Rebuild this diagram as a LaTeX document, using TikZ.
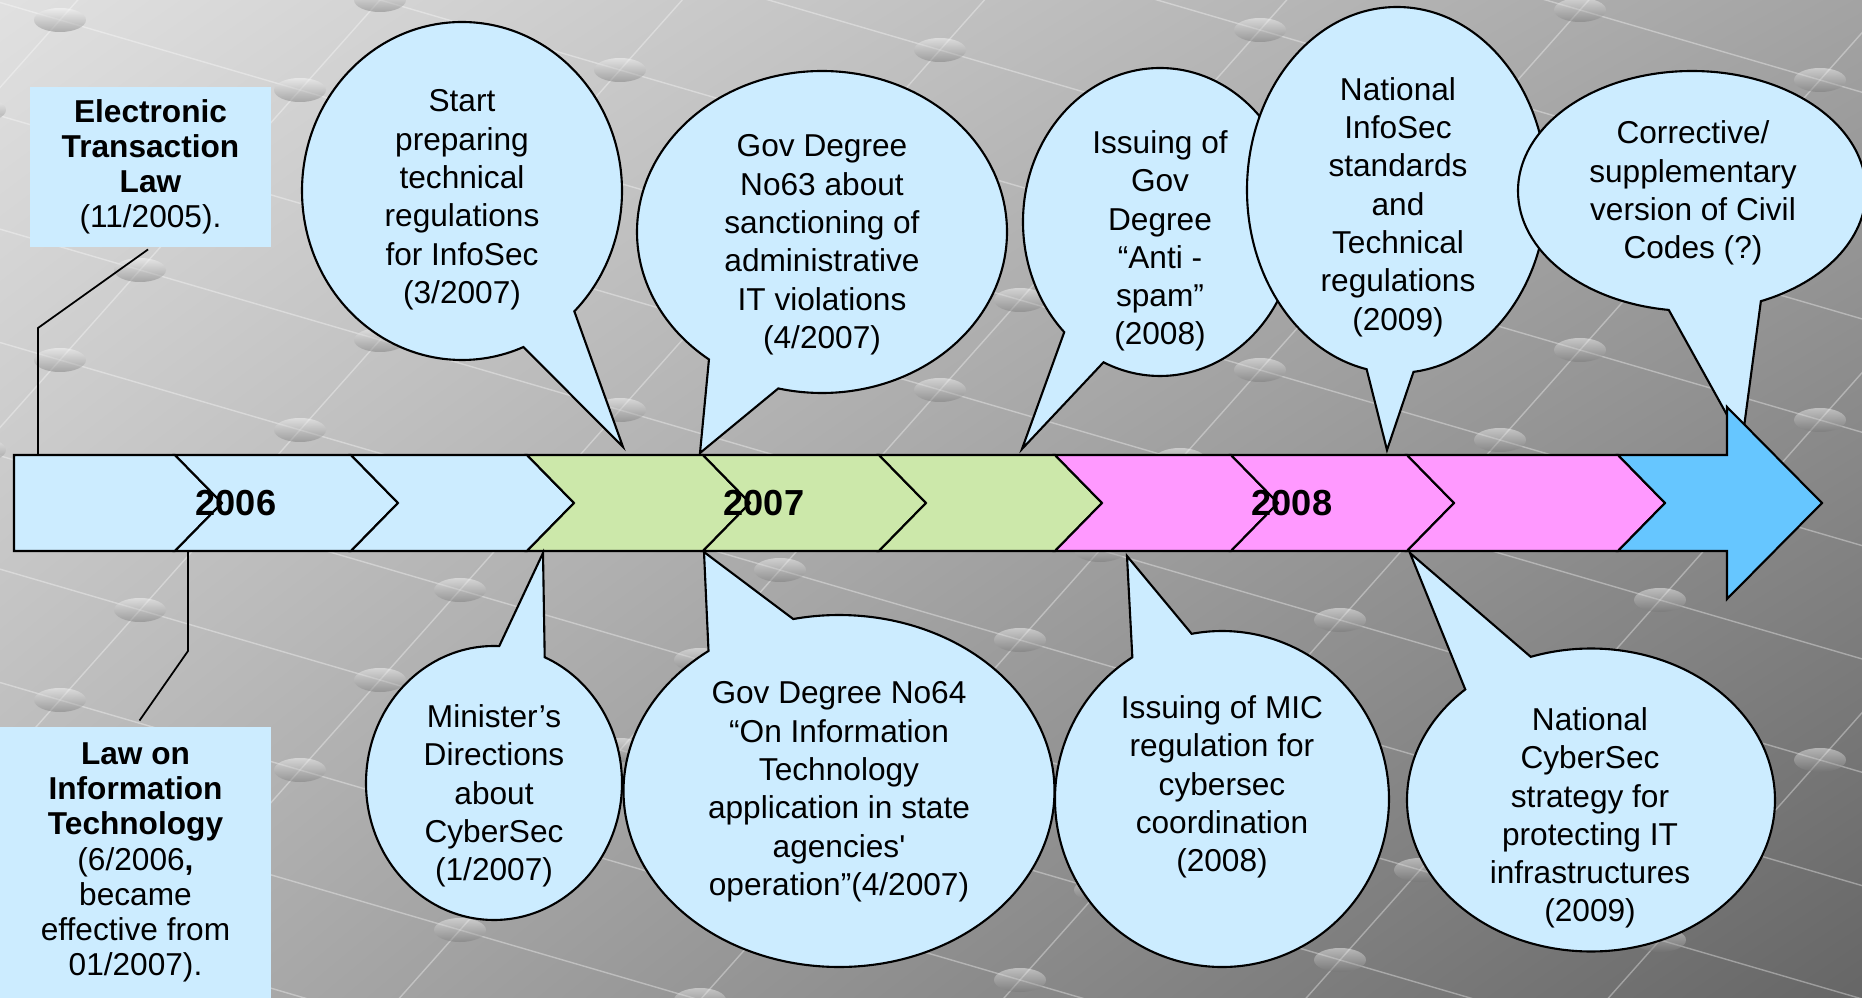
\documentclass[tikz,border=0pt]{standalone}
\usepackage{fontspec}
\setmainfont{Liberation Sans}
\usetikzlibrary{shapes.callouts,shadings}

\definecolor{bubblefill}{HTML}{CCECFF}
\definecolor{yeargreen}{HTML}{CCE8AA}
\definecolor{yearpink}{HTML}{FF99FF}
\definecolor{arrowblue}{HTML}{66C6FF}

\begin{document}
\begin{tikzpicture}[
		x=0.1mm, y=-0.1mm,
		bubble/.style={ellipse callout, draw, line width=0.6pt, fill=bubblefill, inner sep=-2mm},
		note/.style={align=center, inner sep=0pt, font=\fontsize{9pt}{10.9pt}\selectfont},
		fact/.style={fill=bubblefill, align=center, inner sep=0pt, font=\fontsize{9pt}{10pt}\selectfont},
		chevron/.style={draw, line width=0.6pt, line join=miter},
		year/.style={font=\fontsize{10.3pt}{12pt}\selectfont\bfseries},
		leader/.style={line width=0.5pt},
		grid/.style={white, opacity=0.35, line width=0.4pt},
		dot/.style={top color=white, bottom color=black!55, opacity=0.45},
	]
		\useasboundingbox (0,0) rectangle (1862,998);

		% background
		\begin{scope}
			\clip (0,0) rectangle (1862,998);
			\shade[upper left=black!12, upper right=black!36, lower left=black!30, lower right=black!60] (0,0) rectangle (1862,998);
			\foreach \j in {-6,...,9}
				\draw[grid] ({-1380-80*\j},{-400+90*\j}) -- ({2940-80*\j},{860+90*\j});
			\foreach \i in {-1,...,9}
				\draw[grid] ({700+240*\i},{-700+70*\i}) -- ({-740+240*\i},{920+70*\i});
			\foreach \i in {-1,...,9}
				\foreach \j in {-6,...,9}
					\shade[dot] ({60+240*\i-80*\j},{20+70*\i+90*\j}) ellipse [x radius=2.6mm, y radius=1.2mm];
		\end{scope}

		\coordinate (tipA) at (623,447);
		\coordinate (tipB) at (700,453);
		\coordinate (tipC) at (1022,449);
		\coordinate (tipD) at (1387,450);
		\coordinate (tipE) at (1742,442);
		\coordinate (tipF) at (543,553);
		\coordinate (tipG) at (704,552);
		\coordinate (tipH) at (1127,556);
		\coordinate (tipI) at (1410,553);

		% bubbles above the bar
		\node[bubble, minimum width=32mm, minimum height=33.8mm, callout absolute pointer={(tipA)}, callout pointer arc=22] (bA) at (462,191) {};
		\node[note] (nA) at (462,200) {Start\\preparing\\technical\\regulations\\for InfoSec\\(3/2007)};
		\node[bubble, minimum width=37mm, minimum height=32.2mm, callout absolute pointer={(tipB)}, callout pointer arc=24] (bB) at (822,232) {};
		\node[note] (nB) at (822,245) {Gov Degree\\No63 about\\sanctioning of\\administrative\\IT violations\\(4/2007)};
		\node[bubble, minimum width=27.4mm, minimum height=30.8mm, callout absolute pointer={(tipC)}, callout pointer arc=20] (bC) at (1160,222) {};
		\node[note] (nC) at (1160,241) {Issuing of\\Gov\\Degree\\“Anti -\\spam”\\(2008)};
		\node[bubble, minimum width=30mm, minimum height=36.6mm, callout absolute pointer={(tipD)}, callout pointer arc=18] (bD) at (1397,190) {};
		\node[note] (nD) at (1398,207) {National\\InfoSec\\standards\\and\\Technical\\regulations\\(2009)};
		\node[bubble, minimum width=34.8mm, minimum height=24mm, callout absolute pointer={(tipE)}, callout pointer arc=31] (bE) at (1692,191) {};
		\node[note] (nE) at (1693,193) {Corrective/\\supplementary\\version of Civil\\Codes (?)};

		% timeline bar
		\draw[chevron, fill=bubblefill] (14,455) -- (175,455) -- ++(47,48) -- (175,551) -- (14,551) -- cycle;
		\foreach \a/\b/\c in {175/351/bubblefill, 351/527/bubblefill, 527/703/yeargreen, 703/879/yeargreen, 879/1055/yeargreen, 1055/1231/yearpink, 1231/1407/yearpink, 1407/1618/yearpink}
			\draw[chevron, fill=\c] (\a,455) -- (\b,455) -- ++(47,48) -- (\b,551) -- (\a,551) -- ++(47,-48) -- cycle;
		\draw[chevron, fill=arrowblue] (1618,455) -- (1727,455) -- (1727,407) -- (1822,503) -- (1727,599) -- (1727,551) -- (1618,551) -- ++(47,-48) -- cycle;

		\node[year] (y06) at (236,503) {2006};
		\node[year] (y07) at (764,503) {2007};
		\node[year] (y08) at (1292,503) {2008};

		% bubbles below the bar
		\node[bubble, minimum width=25.6mm, minimum height=27.4mm, callout absolute pointer={(tipF)}, callout pointer arc=21] (bF) at (494,783) {};
		\node[note] (nF) at (494,796) {Minister’s\\Directions\\about\\CyberSec\\(1/2007)};
		\node[bubble, minimum width=43.1mm, minimum height=35.2mm, callout absolute pointer={(tipG)}, callout pointer arc=25] (bG) at (839,791) {};
		\node[note] (nG) at (839,792) {Gov Degree No64\\“On Information\\Technology\\application in state\\agencies\textquotesingle\\operation”(4/2007)};
		\node[bubble, minimum width=33.4mm, minimum height=33.6mm, callout absolute pointer={(tipH)}, callout pointer arc=22] (bH) at (1222,799) {};
		\node[note] (nH) at (1222,787) {Issuing of MIC\\regulation for\\cybersec\\coordination\\(2008)};
		\node[bubble, minimum width=36.8mm, minimum height=30.3mm, callout absolute pointer={(tipI)}, callout pointer arc=24] (bI) at (1591,800) {};
		\node[note] (nI) at (1590,818) {National\\CyberSec\\strategy for\\protecting IT\\infrastructures\\(2009)};

		% laws
		\node[fact, minimum width=24.1mm, minimum height=16mm] (etl) at (150.5,167) {\textbf{Electronic}\\\textbf{Transaction}\\\textbf{Law}\\(11/2005).};
		\node[fact, minimum width=27.1mm, minimum height=27.1mm] (lit) at (135.5,862.5) {\textbf{Law on}\\\textbf{Information}\\\textbf{Technology}\\(6/2006\textbf{,}\\became\\effective from\\01/2007).};

		\coordinate (etlfoot) at (38,455);
		\coordinate (litfoot) at (188,551);
		\draw[leader, shorten <=0.3mm] (etl.south) -- (38,328) -- (etlfoot);
		\draw[leader, shorten >=0.7mm] (litfoot) -- (188,651) -- (lit.north);
	\end{tikzpicture}
\end{document}
